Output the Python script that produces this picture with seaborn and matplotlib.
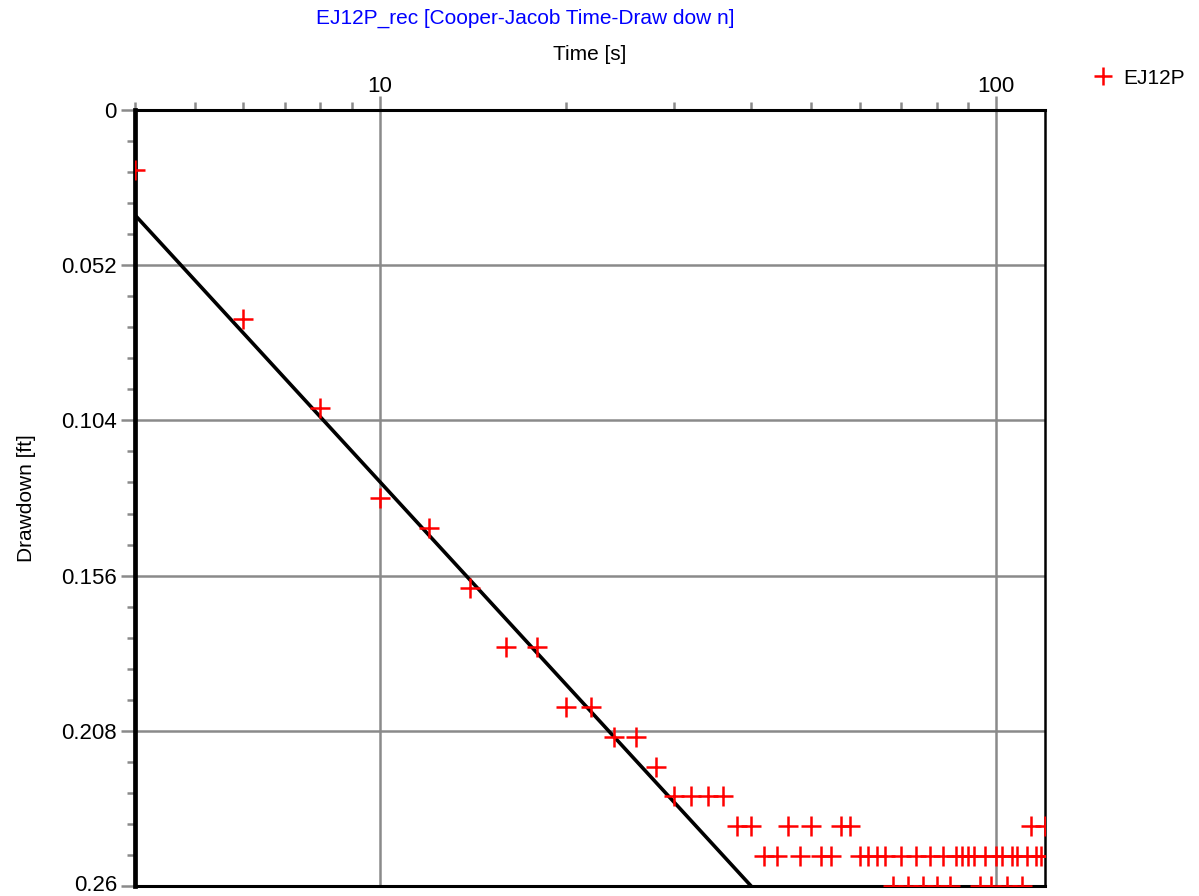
import numpy as np
import pandas as pd
import matplotlib
matplotlib.use("Agg")
import matplotlib.pyplot as plt
import matplotlib.transforms as mtransforms
from matplotlib.lines import Line2D
from matplotlib.ticker import LogLocator, FixedLocator, NullFormatter, FuncFormatter
import seaborn as sns

sns.set_style("white")
plt.rcParams['font.family'] = ['Liberation Sans', 'DejaVu Sans']
plt.rcParams['text.color'] = 'black'
plt.rcParams['axes.labelcolor'] = 'black'
plt.rcParams['xtick.labelcolor'] = 'black'
plt.rcParams['ytick.labelcolor'] = 'black'

# observed drawdown, well EJ12P
time_s = [4, 6, 8, 10, 12, 14, 16, 18, 20, 22, 24, 26, 28, 30, 32, 34, 36, 38, 40,
          42, 44, 46, 48, 50, 52, 54, 56, 58, 60, 62, 64, 66, 68, 70, 72, 74, 76, 78,
          80, 82, 84, 86, 88, 90, 92, 94, 96, 98, 100, 102, 104, 106, 108, 110, 112,
          114, 116, 118, 120]
drawdown_ft = [0.02, 0.07, 0.10, 0.13, 0.14, 0.16, 0.18, 0.18, 0.20, 0.20, 0.21, 0.21,
               0.22, 0.23, 0.23, 0.23, 0.23, 0.24, 0.24, 0.25, 0.25, 0.24, 0.25, 0.24,
               0.25, 0.25, 0.24, 0.24, 0.25, 0.25, 0.25, 0.25, 0.26, 0.25, 0.26, 0.25,
               0.26, 0.25, 0.26, 0.25, 0.26, 0.25, 0.25, 0.25, 0.25, 0.26, 0.25, 0.26,
               0.25, 0.25, 0.26, 0.25, 0.25, 0.26, 0.25, 0.24, 0.25, 0.25, 0.24]

# Cooper-Jacob straight line fit (two end points)
fit_time = [4, 40]
fit_drawdown = [0.0352, 0.26]

y_ticks = [0, 0.052, 0.104, 0.156, 0.208, 0.26]

df = pd.DataFrame({"time": time_s, "drawdown": drawdown_ft})
fit_df = pd.DataFrame({"time": fit_time, "drawdown": fit_drawdown})

fig = plt.figure(figsize=(11.99, 8.96), dpi=100)
ax = fig.add_axes([135 / 1199, 1 - 886 / 896, 910 / 1199, 776 / 896])

ax.set_xscale("log")
ax.set_xlim(4, 120)
ax.set_ylim(0.26, 0)

# grid
ax.set_axisbelow(True)
ax.grid(True, which="major", color="#8a8a8a", linewidth=1.8)

sns.lineplot(x="time", y="drawdown", data=fit_df, color="black", linewidth=2.6, ax=ax,
             zorder=3)
sns.scatterplot(x="time", y="drawdown", data=df, marker="+", color="red", s=220,
                linewidth=1.8, ax=ax, zorder=4)

# x axis on top
ax.xaxis.tick_top()
ax.xaxis.set_label_position("top")
ax.xaxis.set_major_locator(FixedLocator([10, 100]))
ax.xaxis.set_major_formatter(FuncFormatter(lambda v, p: f"{v:g}"))
ax.xaxis.set_minor_locator(LogLocator(base=10, subs=np.arange(2, 10)))
ax.xaxis.set_minor_formatter(NullFormatter())

ax.yaxis.set_major_locator(FixedLocator(y_ticks))
ax.yaxis.set_major_formatter(FuncFormatter(lambda v, p: f"{v:g}"))
ax.yaxis.set_minor_locator(FixedLocator(np.arange(0, 0.2601, 0.0104)))

ax.tick_params(axis="both", which="major", direction="out", length=10, width=1.8,
               color="#8a8a8a", labelsize=16, pad=3)
ax.tick_params(axis="both", which="minor", direction="out", length=6, width=1.8,
               color="#8a8a8a")
ax.tick_params(axis="x", which="both", top=True, bottom=False)
ax.tick_params(axis="x", which="major", pad=-1)
ax.tick_params(axis="y", which="both", left=True, right=False)

# nudge the bottom tick label up a little so it stays inside the figure
fig.canvas.draw()
last_lbl = ax.get_yticklabels()[-1]
last_lbl.set_transform(last_lbl.get_transform() +
                       mtransforms.ScaledTranslation(0, 3 / 100, fig.dpi_scale_trans))

for name, sp in ax.spines.items():
    sp.set_color("black")
ax.spines["left"].set_linewidth(3.4)
ax.spines["top"].set_linewidth(2.2)
ax.spines["bottom"].set_linewidth(2.2)
ax.spines["right"].set_linewidth(1.8)

ax.set_xlabel("Time [s]", fontsize=15, labelpad=12)
ax.set_ylabel("Drawdown [ft]", fontsize=15, labelpad=18)

fig.text(525 / 1199, 1 - 18 / 896, "EJ12P_rec [Cooper-Jacob Time-Draw dow n]",
         color="blue", fontsize=15, ha="center", va="center")

leg_handle = Line2D([], [], color="red", marker="+", linestyle="none", markersize=13,
                    markeredgewidth=1.8, label="EJ12P")
fig.legend(handles=[leg_handle], loc="center left", bbox_to_anchor=(1082 / 1199, 1 - 78 / 896),
           frameon=False, fontsize=15, handlelength=1.2, handletextpad=0.4, borderaxespad=0)

fig.savefig("out.png", dpi=100)
